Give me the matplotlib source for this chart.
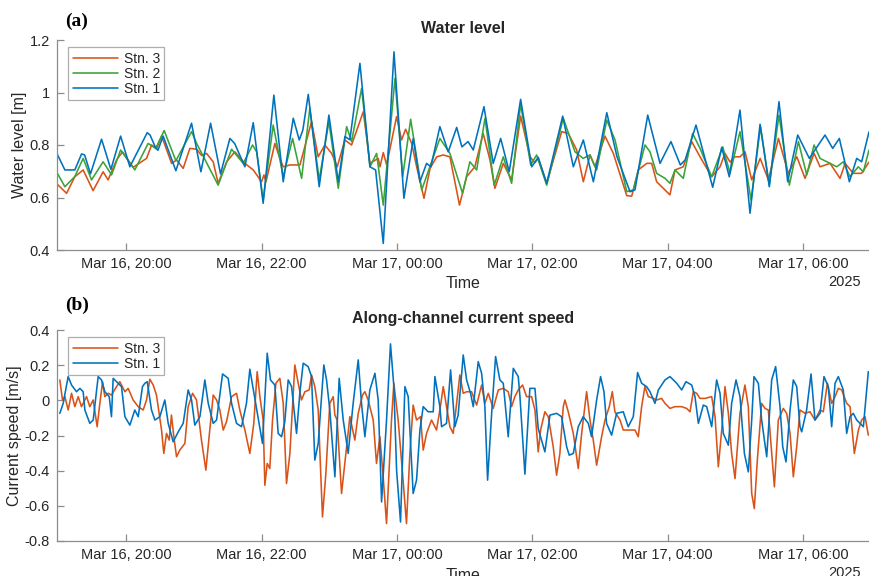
import matplotlib

matplotlib.use("Agg")
import matplotlib.dates as mdates
import matplotlib.pyplot as plt
import numpy as np
import pandas as pd

plt.rcParams["font.family"] = ["Liberation Sans", "DejaVu Sans"]
plt.rcParams["axes.unicode_minus"] = False

# all series are given in minutes after this time
t0 = pd.Timestamp("2025-03-16 19:00")
xlim_min = [-1.5, 718.5]

# ---- (a) water level [m]
wl_stn1_min = [-1.4, 5.5, 14.3, 20.3, 23, 28.2, 38, 46.3, 54.9, 63.1, 78.5, 81, 86.2, 88, 92.6,
               103.9, 117.8, 126.1, 134.7, 143.5, 151.8, 156, 165.1, 172.5, 181.3, 190.8, 199.1,
               208, 213.3, 216.5, 221.3, 231, 239.6, 247.9, 253.8, 258.2, 267.1, 276, 281, 287.8,
               297.3, 306.1, 314.4, 320.3, 326.2, 330, 338, 345.4, 352.9, 357.5, 363, 367.6,
               377.1, 385.3, 391.9, 399.5, 409.6, 419.4, 425.2, 432.7, 446.9, 456.3, 465.2,
               474.1, 486, 495, 506.6, 511, 522.3, 533.2, 542.9, 551.2, 555.5, 565.1, 579.9,
               587.9, 594.6, 604.1, 613, 621.9, 630.1, 638.7, 646.4, 655.3, 665.6, 679.5, 686.3,
               692.2, 701.1, 707.6, 712, 718.5]
wl_stn1 = [0.766, 0.705, 0.705, 0.766, 0.762, 0.69, 0.822, 0.707, 0.834, 0.717, 0.847, 0.838,
           0.787, 0.78, 0.834, 0.702, 0.883, 0.698, 0.883, 0.69, 0.825, 0.806, 0.717, 0.885,
           0.578, 0.99, 0.66, 0.902, 0.819, 0.857, 0.993, 0.641, 0.914, 0.66, 0.832, 0.82,
           1.111, 0.717, 0.705, 0.425, 1.155, 0.597, 0.825, 0.66, 0.73, 0.717, 0.87, 0.774,
           0.867, 0.793, 0.813, 0.781, 0.946, 0.73, 0.825, 0.698, 0.974, 0.717, 0.753, 0.654,
           0.91, 0.717, 0.819, 0.66, 0.923, 0.756, 0.622, 0.629, 0.914, 0.73, 0.813, 0.724,
           0.743, 0.876, 0.639, 0.791, 0.679, 0.933, 0.54, 0.879, 0.641, 0.965, 0.66, 0.838,
           0.749, 0.838, 0.787, 0.825, 0.66, 0.749, 0.736, 0.85]

wl_stn2_min = [-1.4, 5.5, 14.3, 21.7, 29.1, 39.4, 46.9, 54.9, 67.5, 79.3, 86, 93.5, 103.9, 117.8,
               122.3, 141.4, 153.3, 163.6, 171.9, 175.5, 181.3, 190.2, 199.1, 207.4, 215.4,
               222.7, 231, 239.6, 247.9, 255.3, 259.7, 268.6, 276, 281.9, 287.8, 298.2, 305,
               312.1, 321.9, 338, 346.9, 358.1, 364.6, 370.6, 378, 386.2, 394.2, 401.6, 409.6,
               418.5, 423.8, 432.7, 447.4, 457.8, 465, 471.1, 477, 486, 493.3, 503.7, 509.5,
               519.9, 524.3, 530.2, 537.6, 542, 546.5, 553.8, 562.1, 568.7, 579, 588.8, 595.3,
               604.1, 613.9, 622.3, 630.1, 638.7, 647.9, 655.9, 663.3, 669.8, 675.1, 684, 689.9,
               695.7, 701.6, 709, 713.5, 718.5]
wl_stn2 = [0.694, 0.641, 0.68, 0.749, 0.667, 0.736, 0.686, 0.781, 0.705, 0.806, 0.787, 0.855,
           0.74, 0.851, 0.806, 0.647, 0.784, 0.73, 0.8, 0.774, 0.59, 0.876, 0.679, 0.825, 0.673,
           0.94, 0.667, 0.889, 0.635, 0.87, 0.813, 1.016, 0.717, 0.768, 0.571, 1.054, 0.679,
           0.898, 0.629, 0.825, 0.768, 0.616, 0.736, 0.705, 0.902, 0.647, 0.755, 0.654, 0.956,
           0.724, 0.762, 0.647, 0.902, 0.774, 0.749, 0.762, 0.705, 0.895, 0.819, 0.622, 0.629,
           0.8, 0.774, 0.692, 0.673, 0.654, 0.705, 0.673, 0.844, 0.787, 0.679, 0.793, 0.692,
           0.851, 0.59, 0.87, 0.647, 0.914, 0.647, 0.813, 0.686, 0.8, 0.749, 0.73, 0.717,
           0.736, 0.679, 0.717, 0.698, 0.781]

wl_stn3_min = [-1.4, 7, 14.3, 21.7, 30.5, 39.4, 43.8, 51.3, 56.6, 66, 77.9, 82.4, 86.8, 91.3,
               100.1, 104.5, 110.4, 116.3, 122.3, 126.7, 131.1, 137, 141.4, 148.9, 156.2, 165.1,
               172.5, 179.9, 182, 183.8, 191.7, 196.1, 199.1, 205, 213.9, 224.2, 230.1, 236, 242,
               247, 253.8, 259.7, 270.1, 276, 283.3, 284.9, 287.8, 290.8, 299.6, 304, 307.6, 313,
               317.4, 323.9, 329.3, 335.2, 341, 346.9, 355.4, 361.7, 369, 376.4, 382.4, 386.8,
               394.2, 401.6, 409.6, 417.9, 422.3, 425.2, 432.7, 446, 451.9, 459.3, 465.2, 471.1,
               475.5, 484.4, 491.8, 503.7, 508.1, 513.9, 521.4, 525.8, 530.2, 542, 546.5, 553.8,
               561.3, 568.7, 579, 586.4, 590.8, 595.3, 599.3, 604.1, 608.6, 614.5, 622, 629.3,
               638.2, 647, 654.5, 661.8, 669.8, 675.1, 684, 692.8, 697.3, 704.6, 711.9, 718.5]
wl_stn3 = [0.651, 0.616, 0.679, 0.705, 0.626, 0.698, 0.667, 0.743, 0.774, 0.715, 0.749, 0.8,
           0.787, 0.834, 0.73, 0.743, 0.711, 0.787, 0.784, 0.76, 0.768, 0.736, 0.654, 0.736,
           0.774, 0.73, 0.705, 0.66, 0.686, 0.66, 0.806, 0.749, 0.717, 0.724, 0.724, 0.889,
           0.755, 0.8, 0.768, 0.717, 0.819, 0.8, 0.927, 0.73, 0.749, 0.717, 0.771, 0.724, 0.908,
           0.819, 0.86, 0.806, 0.717, 0.597, 0.711, 0.755, 0.762, 0.755, 0.571, 0.679, 0.717,
           0.844, 0.743, 0.635, 0.73, 0.667, 0.91, 0.755, 0.733, 0.749, 0.654, 0.851, 0.844,
           0.781, 0.66, 0.762, 0.717, 0.834, 0.768, 0.607, 0.605, 0.705, 0.73, 0.73, 0.66, 0.61,
           0.705, 0.717, 0.813, 0.755, 0.679, 0.717, 0.768, 0.735, 0.755, 0.755, 0.774, 0.667,
           0.749, 0.667, 0.825, 0.692, 0.755, 0.673, 0.768, 0.717, 0.73, 0.673, 0.73, 0.692,
           0.692, 0.735]

# ---- (b) along-channel current speed [m/s]
cs_stn1_min = [1.0, 4.0, 8.4, 11.4, 15.8, 18.8, 21.7, 23.2, 27.6, 30.6, 35.0, 38.0, 40.9, 44.8,
               46.8, 48.3, 52.7, 55.7, 58.7, 63.1, 67.5, 70.5, 74.3, 76.4, 78.5, 82.3, 85.3,
               89.7, 94.1, 97.1, 101.5, 106.0, 110.4, 114.8, 117.8, 120.7, 125.2, 129.6, 132.6,
               137.0, 140.0, 145.3, 150.3, 153.3, 157.7, 162.1, 166.5, 169.5, 175.4, 180.7,
               184.9, 187.8, 191.7, 194.6, 197.6, 200.5, 203.5, 206.5, 210.9, 213.8, 216.8,
               221.2, 224.2, 227.1, 230.1, 235.1, 237.5, 240.4, 244.9, 248.7, 252.3, 256.7,
               261.1, 265.6, 268.5, 271.5, 275.9, 280.4, 283.3, 286.3, 290.7, 294.2, 297.2,
               299.6, 303.1, 307.0, 309.9, 314.3, 317.3, 320.3, 323.2, 327.6, 332.1, 333.6,
               338.0, 339.5, 343.9, 347.5, 351.3, 354.2, 358.7, 361.7, 365.2, 367.6, 372.0,
               375.0, 377.9, 380.3, 383.9, 387.4, 391.2, 394.2, 398.6, 403.1, 407.5, 409.0,
               413.4, 417.8, 422.3, 425.2, 431.1, 435.6, 441.5, 445.9, 450.4, 452.7, 456.3,
               460.7, 465.1, 469.6, 472.5, 477.0, 480.5, 483.5, 485.8, 490.3, 494.7, 500.6,
               505.0, 509.5, 513.3, 516.9, 521.3, 524.3, 528.7, 531.7, 537.6, 542.0, 548.0,
               552.4, 556.2, 561.3, 564.2, 567.2, 571.6, 574.6, 579.0, 583.4, 586.4, 589.3,
               593.8, 596.7, 600.6, 604.1, 608.0, 611.5, 614.5, 616.5, 620.4, 623.3, 627.8,
               632.2, 635.7, 639.6, 642.0, 644.9, 648.5, 651.4, 654.4, 657.3, 658.8, 663.2,
               667.1, 670.6, 675.1, 678.6, 682.4, 685.4, 688.4, 691.3, 695.7, 698.7, 701.7,
               704.6, 707.6, 713.5, 717.9]
cs_stn1 = [-0.074, -0.017, 0.135, 0.087, 0.049, 0.068, 0.049, -0.055, -0.131, -0.112, 0.135,
           0.116, 0.049, 0.021, -0.093, 0.125, 0.097, 0.078, -0.093, -0.141, -0.055, -0.093,
           0.078, 0.097, 0.106, -0.055, -0.112, -0.093, 0.002, -0.131, -0.236, -0.179, -0.131,
           0.059, 0.002, -0.141, -0.093, 0.116, -0.017, -0.131, -0.112, 0.150, 0.125, -0.017,
           -0.131, -0.150, -0.017, 0.177, -0.046, -0.245, 0.268, 0.116, 0.087, -0.188, -0.207,
           -0.122, 0.116, 0.078, -0.188, 0.040, 0.211, 0.192, 0.135, -0.340, -0.245, 0.201,
           0.116, -0.055, -0.435, 0.125, -0.112, -0.302, -0.017, 0.230, -0.017, -0.207, 0.059,
           0.154, 0.002, -0.578, -0.112, 0.321, 0.078, -0.397, -0.692, 0.078, 0.021, -0.530,
           -0.454, -0.169, -0.036, -0.065, -0.065, 0.135, -0.036, -0.150, -0.131, 0.173,
           -0.150, -0.084, 0.258, 0.116, 0.040, -0.036, 0.220, 0.154, -0.036, -0.454, -0.074,
           0.249, 0.116, 0.097, -0.207, 0.182, 0.135, 0.021, -0.420, 0.068, 0.068, -0.160,
           -0.293, -0.084, -0.074, -0.093, -0.264, -0.312, -0.302, -0.150, -0.093, -0.131,
           -0.207, 0.002, 0.135, 0.049, -0.131, -0.198, -0.074, -0.065, -0.150, -0.093, 0.158,
           0.097, 0.078, 0.049, -0.017, 0.059, 0.116, 0.135, 0.097, 0.059, 0.106, 0.087, 0.021,
           -0.131, -0.027, -0.036, -0.150, 0.116, 0.040, -0.188, -0.255, -0.017, 0.116, 0.021,
           -0.302, -0.407, -0.112, 0.135, 0.097, -0.112, -0.321, 0.116, 0.192, -0.036, -0.264,
           -0.350, -0.055, 0.116, 0.078, -0.150, -0.179, -0.055, 0.150, -0.112, -0.074, 0.135,
           0.078, -0.150, 0.097, 0.135, 0.059, -0.188, -0.093, -0.074, -0.112, -0.150, 0.163]

cs_stn3_min = [1.0, 3.4, 5.5, 8.4, 11.4, 14.3, 17.3, 20.2, 24.7, 27.6, 30.6, 34.1, 36.5, 38.9,
               40.9, 43.9, 46.8, 51.3, 54.2, 58.7, 61.6, 66.0, 70.5, 74.9, 77.9, 80.8, 83.8,
               86.7, 91.2, 93.2, 95.6, 98.0, 100.0, 102.1, 104.5, 107.4, 111.9, 114.8, 118.7,
               122.2, 126.6, 130.5, 134.0, 137.0, 140.0, 142.9, 145.9, 148.8, 153.3, 157.7,
               160.6, 165.1, 169.5, 173.0, 176.0, 178.4, 181.3, 182.8, 184.9, 187.2, 189.6,
               192.6, 196.1, 199.1, 202.0, 205.0, 209.4, 212.4, 215.3, 218.3, 222.1, 224.2,
               227.1, 230.1, 233.9, 236.9, 240.4, 243.4, 244.9, 246.9, 250.8, 253.7, 258.2,
               262.6, 265.6, 269.4, 271.5, 274.4, 278.9, 281.8, 284.8, 287.7, 290.7, 295.1,
               297.2, 301.0, 304.9, 308.4, 311.4, 314.3, 317.3, 320.8, 323.2, 326.2, 330.6,
               335.0, 338.0, 341.0, 343.9, 346.9, 349.8, 352.8, 355.7, 358.7, 361.7, 366.1,
               370.6, 375.0, 377.9, 380.9, 385.3, 389.8, 394.2, 398.6, 401.6, 404.5, 407.5,
               411.3, 414.9, 419.3, 422.3, 425.2, 427.3, 431.1, 434.1, 438.5, 441.5, 444.4,
               447.4, 448.9, 451.8, 456.3, 460.7, 463.7, 468.1, 471.1, 474.0, 477.0, 481.4,
               484.4, 488.2, 490.9, 493.2, 497.7, 500.6, 506.5, 511.0, 513.9, 516.9, 519.8,
               522.8, 527.3, 530.2, 534.6, 537.6, 542.0, 546.5, 552.4, 556.8, 559.8, 562.7,
               565.7, 568.6, 573.1, 579.0, 582.0, 584.9, 587.9, 590.8, 593.8, 596.7, 599.7,
               604.1, 608.5, 611.5, 614.5, 616.8, 619.5, 623.3, 626.3, 629.2, 632.2, 634.6,
               638.1, 642.5, 645.5, 648.5, 651.4, 654.4, 657.3, 661.8, 666.2, 670.6, 675.1,
               678.0, 681.6, 685.4, 688.4, 691.3, 694.3, 698.7, 701.7, 705.5, 709.1, 712.0,
               715.0, 717.9]
cs_stn3 = [0.116, 0.002, 0.021, -0.055, 0.040, -0.036, 0.021, -0.036, 0.021, -0.036, 0.002,
           -0.150, -0.017, 0.106, 0.021, 0.040, 0.030, 0.078, 0.106, 0.049, 0.068, 0.002,
           -0.036, -0.055, 0.002, 0.120, 0.087, 0.030, -0.169, -0.302, -0.188, -0.226, -0.084,
           -0.207, -0.321, -0.283, -0.245, -0.036, 0.040, 0.002, -0.226, -0.397, -0.169, 0.030,
           0.002, -0.055, -0.169, -0.122, 0.021, 0.040, -0.055, -0.169, -0.302, -0.131, 0.163,
           0.021, -0.112, -0.483, -0.359, -0.388, -0.112, 0.097, 0.125, -0.017, -0.473, -0.302,
           0.201, 0.097, 0.002, 0.049, 0.059, 0.144, 0.078, -0.055, -0.663, -0.416, -0.017,
           0.021, -0.084, -0.112, -0.530, -0.359, -0.093, -0.226, -0.074, 0.030, 0.049, 0.002,
           -0.112, -0.359, -0.207, -0.435, -0.701, -0.112, 0.097, -0.112, -0.416, -0.701,
           -0.302, -0.027, -0.112, -0.093, -0.283, -0.188, -0.112, -0.169, -0.055, 0.078,
           -0.036, -0.150, -0.188, -0.017, 0.144, 0.040, 0.049, 0.049, -0.027, 0.087, -0.017,
           0.040, -0.046, 0.059, 0.068, 0.049, -0.036, 0.021, 0.059, 0.087, 0.021, 0.021,
           -0.055, -0.293, -0.169, -0.065, -0.093, -0.264, -0.426, -0.302, -0.036, 0.002,
           -0.065, -0.188, -0.388, -0.188, 0.049, -0.112, -0.226, -0.369, -0.207, -0.112,
           -0.036, 0.049, -0.065, -0.112, -0.169, -0.169, -0.169, -0.207, -0.036, 0.078, 0.021,
           0.011, 0.002, 0.011, -0.017, -0.046, -0.036, -0.036, -0.046, -0.065, 0.049, 0.040,
           0.011, 0.011, 0.021, -0.093, -0.378, -0.169, 0.078, -0.074, -0.302, -0.445, -0.074,
           0.087, -0.036, -0.530, -0.616, -0.340, -0.017, -0.046, -0.055, -0.302, -0.492,
           -0.112, -0.046, -0.074, -0.188, -0.435, -0.264, -0.055, -0.074, -0.065, -0.112,
           -0.055, -0.065, 0.097, -0.017, 0.021, 0.068, 0.059, -0.017, -0.036, -0.302, -0.169,
           -0.112, -0.093, -0.198]

c_blue = "#0072BD"
c_orange = "#D95319"
c_green = "#3AA33A"
axis_grey = "#8C8C8C"
text_grey = "#262626"


def to_time(minutes):
    return t0 + pd.to_timedelta(np.asarray(minutes, dtype=float), unit="min")


def style_axes(ax, yticks, ylabels, ylim, ylabel, title):
    ax.set_xlim(to_time(xlim_min))
    ax.set_ylim(ylim)
    ax.set_yticks(yticks)
    ax.set_yticklabels(ylabels)
    ax.xaxis.set_major_locator(mdates.HourLocator(byhour=range(0, 24, 2)))
    ax.xaxis.set_major_formatter(mdates.DateFormatter("%b %d, %H:%M"))
    for side in ["top", "right"]:
        ax.spines[side].set_visible(False)
    for side in ["left", "bottom"]:
        ax.spines[side].set_color(axis_grey)
        ax.spines[side].set_linewidth(0.9)
    ax.tick_params(direction="in", length=5, width=0.9, color=axis_grey,
                   labelcolor=text_grey, labelsize=10.5, pad=5)
    ax.set_xlabel("Time", fontsize=11.5, color=text_grey, labelpad=4)
    ax.set_ylabel(ylabel, fontsize=11.5, color=text_grey, labelpad=2)
    ax.set_title(title, fontsize=11.5, fontweight="bold", color=text_grey, pad=5)
    ax.text(0.99, -0.12, "2025", transform=ax.transAxes, ha="right", va="top",
            fontsize=10.5, color=text_grey)


fig = plt.figure(figsize=(8.69, 5.76), dpi=100)
ax_a = fig.add_axes([57 / 869, 1 - 250 / 576, 1 - 57 / 869, 210 / 576])
ax_b = fig.add_axes([57 / 869, 1 - 541 / 576, 1 - 57 / 869, 211 / 576])

lw = 1.15
line_kw = dict(lw=lw, solid_joinstyle="round", solid_capstyle="round")
ax_a.plot(to_time(wl_stn3_min), wl_stn3, color=c_orange, label="Stn. 3", **line_kw)
ax_a.plot(to_time(wl_stn2_min), wl_stn2, color=c_green, label="Stn. 2", **line_kw)
ax_a.plot(to_time(wl_stn1_min), wl_stn1, color=c_blue, label="Stn. 1", **line_kw)
style_axes(ax_a, [0.4, 0.6, 0.8, 1.0, 1.2], ["0.4", "0.6", "0.8", "1", "1.2"],
           (0.4, 1.2), "Water level [m]", "Water level")

ax_b.plot(to_time(cs_stn3_min), cs_stn3, color=c_orange, label="Stn. 3", **line_kw)
ax_b.plot(to_time(cs_stn1_min), cs_stn1, color=c_blue, label="Stn. 1", **line_kw)
style_axes(ax_b, [-0.8, -0.6, -0.4, -0.2, 0, 0.2, 0.4],
           ["-0.8", "-0.6", "-0.4", "-0.2", "0", "0.2", "0.4"],
           (-0.8, 0.4), "Current speed [m/s]", "Along-channel current speed")

for ax in (ax_a, ax_b):
    leg = ax.legend(loc="upper left", bbox_to_anchor=(0.014, 0.965), fontsize=10,
                    frameon=True, fancybox=False, handlelength=3.3, handletextpad=0.4,
                    borderpad=0.3, labelspacing=0.1, borderaxespad=0)
    leg.get_frame().set_edgecolor("#9A9A9A")
    leg.get_frame().set_linewidth(0.9)
    for txt in leg.get_texts():
        txt.set_color(text_grey)

fig.text(65 / 869, 1 - 21 / 576, "(a)", family="Liberation Serif", fontweight="bold",
         fontsize=14, va="center", ha="left")
fig.text(65 / 869, 1 - 305 / 576, "(b)", family="Liberation Serif", fontweight="bold",
         fontsize=14, va="center", ha="left")

fig.savefig("out.png", dpi=100)
